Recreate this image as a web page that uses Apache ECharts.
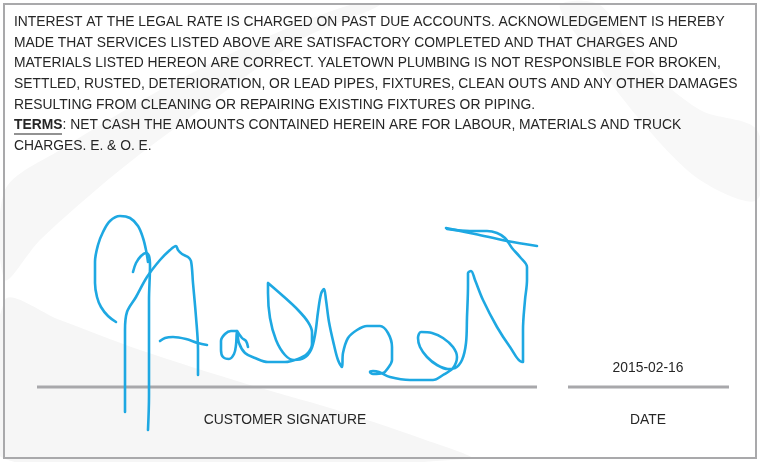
<!DOCTYPE html>
<html>
<head>
<meta charset="utf-8">
<script src="https://cdn.jsdelivr.net/npm/echarts@6/dist/echarts.min.js"></script>
<style>
  html, body { margin: 0; padding: 0; background: #ffffff; }
  #chart { width: 760px; height: 462px; }
</style>
</head>
<body>
<div id="chart"></div>
<script>
// ---- data ----
var termsLines = [
  'INTEREST AT THE LEGAL RATE IS CHARGED ON PAST DUE ACCOUNTS. ACKNOWLEDGEMENT IS HEREBY',
  'MADE THAT SERVICES LISTED ABOVE ARE SATISFACTORY COMPLETED AND THAT CHARGES AND',
  'MATERIALS LISTED HEREON ARE CORRECT. YALETOWN PLUMBING IS NOT RESPONSIBLE FOR BROKEN,',
  'SETTLED, RUSTED, DETERIORATION, OR LEAD PIPES, FIXTURES, CLEAN OUTS AND ANY OTHER DAMAGES',
  'RESULTING FROM CLEANING OR REPAIRING EXISTING FIXTURES OR PIPING.'
];
var termsLabel = 'TERMS';
var termsRest = ': NET CASH THE AMOUNTS CONTAINED HEREIN ARE FOR LABOUR, MATERIALS AND TRUCK';
var termsLast = 'CHARGES. E. & O. E.';
var signatureLabel = 'CUSTOMER SIGNATURE';
var dateLabel = 'DATE';
var dateValue = '2015-02-16';

// signature strokes (pen coordinates on the signing pad)
var strokeLoop = [[116,322],[108,316],[101,307],[97,297],[95,283],[95,262],[98,245],[103,232],[110,221],[120,216],[130,218],[138,226],[143,238],[146,250],[148,262]];
var strokeHook = [[133,272],[136,263],[141,256],[146,253],[149,256],[150,266],[149,300],[149,350],[149,395],[148,430]];
var strokeArch = [[125,412],[125,370],[125,330],[127,312],[136,297],[147,277],[160,260],[170,250],[176,246],[178,250],[182,254],[188,257],[191,261],[193,283],[196,317],[198,350],[198,375]];
var strokeBar = [[160,341],[165,338],[173,337],[186,339],[198,343],[207,345]];
var strokeFlick = [[237,331],[242,338],[246,341],[248,347]];
var strokeMain = [[237,331],[231,331],[225,334],[221,341],[221,350],[223,357],[229,359],[234,354],[236,345],[237,331],[239,343],[245,353],[255,358],[268,362],[285,362],[298,359],[307,354],[312,344],[312,332],[308,322],[298,310],[283,296],[268,283],[268,293],[270,318],[276,340],[285,355],[294,360],[304,358],[311,350],[315,335],[318,312],[321,294],[324,289],[326,300],[329,322],[334,345],[338,360],[342,367],[343,353],[348,338],[357,330],[367,326],[380,326],[388,333],[392,347],[392,360],[388,368],[383,373],[373,374],[370,372],[373,371],[379,372],[390,377],[410,380],[433,380],[443,375],[453,368],[457,357],[453,347],[443,338],[432,333],[421,332],[418,338],[420,347],[427,357],[437,365],[448,369],[455,368],[462,360],[466,343],[467,317],[468,285],[468,273],[471,271],[475,280],[483,300],[497,327],[510,347],[522,362],[523,362],[523,330],[525,300],[527,280],[527,267],[520,257],[512,248],[505,238],[497,233],[487,231],[470,231],[447,229]];
var strokeCross = [[446,228],[475,234],[507,241],[537,246]];

var strokes = [strokeLoop, strokeHook, strokeArch, strokeBar, strokeFlick, strokeMain, strokeCross];

// ---- chart ----
var chart = echarts.init(document.getElementById('chart'), null, {renderer: 'canvas'});
var inkColor = '#1ea8e2';
var textColor = '#262626';
var font = '"Liberation Sans", Arial, sans-serif';
var fs = 13.85;

var series = strokes.map(function (s, i) {
  return {
    type: 'line',
    name: 'stroke' + i,
    data: s,
    smooth: 0.35,
    showSymbol: false,
    silent: true,
    animation: false,
    z: 5,
    lineStyle: { color: inkColor, width: 2.6, cap: 'round', join: 'round' }
  };
});

var graphics = [];
// faint watermark swooshes
graphics.push({
  type: 'polygon', z: -10, silent: true,
  shape: { points: [[5,300],[60,320],[140,350],[250,385],[330,408],[420,438],[470,459],[5,459]], smooth: 0.3 },
  style: { fill: '#f6f6f6' }
});
graphics.push({
  type: 'polygon', z: -10, silent: true,
  shape: { points: [[5,190],[60,150],[160,90],[260,40],[350,5],[380,5],[300,40],[200,110],[120,170],[40,240],[5,280]], smooth: 0.3 },
  style: { fill: '#f7f7f7' }
});
graphics.push({
  type: 'polygon', z: -10, silent: true,
  shape: { points: [[600,5],[640,60],[700,110],[757,130],[757,200],[700,180],[640,120],[580,40],[560,5]], smooth: 0.3 },
  style: { fill: '#f8f8f8' }
});
// border
graphics.push({
  type: 'rect', z: 20, silent: true,
  shape: { x: 4, y: 4, width: 752, height: 454 },
  style: { fill: 'none', stroke: '#a9a9ab', lineWidth: 2 }
});
var lineY0 = 22, lineGap = 20.7;
termsLines.forEach(function (t, i) {
  graphics.push({
    type: 'text', z: 10, silent: true,
    style: { text: t, x: 14, y: lineY0 + i * lineGap, fill: textColor, font: fs + 'px ' + font, verticalAlign: 'middle', align: 'left' }
  });
});
var termsY = lineY0 + 5 * lineGap;
graphics.push({
  type: 'text', z: 10, silent: true,
  style: { text: '{b|' + termsLabel + '}' + termsRest, x: 14, y: termsY, fill: textColor, font: fs + 'px ' + font, verticalAlign: 'middle', align: 'left',
    rich: { b: { fontWeight: 'bold', fontSize: fs, fontFamily: font, fill: textColor } } }
});
graphics.push({
  type: 'line', z: 10, silent: true,
  shape: { x1: 14, y1: termsY + 8.5, x2: 62, y2: termsY + 8.5 },
  style: { stroke: textColor, lineWidth: 1.2 }
});
graphics.push({
  type: 'text', z: 10, silent: true,
  style: { text: termsLast, x: 14, y: lineY0 + 6 * lineGap, fill: textColor, font: fs + 'px ' + font, verticalAlign: 'middle', align: 'left' }
});
// signature and date rules
graphics.push({ type: 'line', z: 4, silent: true, shape: { x1: 37, y1: 387, x2: 537, y2: 387 }, style: { stroke: '#a8a8ab', lineWidth: 3 } });
graphics.push({ type: 'line', z: 4, silent: true, shape: { x1: 568, y1: 387, x2: 729, y2: 387 }, style: { stroke: '#a8a8ab', lineWidth: 3 } });
graphics.push({ type: 'text', z: 10, silent: true, style: { text: signatureLabel, x: 285, y: 420, fill: textColor, font: fs + 'px ' + font, align: 'center', verticalAlign: 'middle' } });
graphics.push({ type: 'text', z: 10, silent: true, style: { text: dateLabel, x: 648, y: 420, fill: textColor, font: fs + 'px ' + font, align: 'center', verticalAlign: 'middle' } });
graphics.push({ type: 'text', z: 10, silent: true, style: { text: dateValue, x: 648, y: 368, fill: textColor, font: fs + 'px ' + font, align: 'center', verticalAlign: 'middle' } });

chart.setOption({
  animation: false,
  backgroundColor: '#ffffff',
  grid: { left: 0, right: 0, top: 0, bottom: 0 },
  xAxis: { type: 'value', min: 0, max: 760, show: false },
  yAxis: { type: 'value', min: 0, max: 462, inverse: true, show: false },
  series: series,
  graphic: graphics
});
</script>
</body>
</html>
